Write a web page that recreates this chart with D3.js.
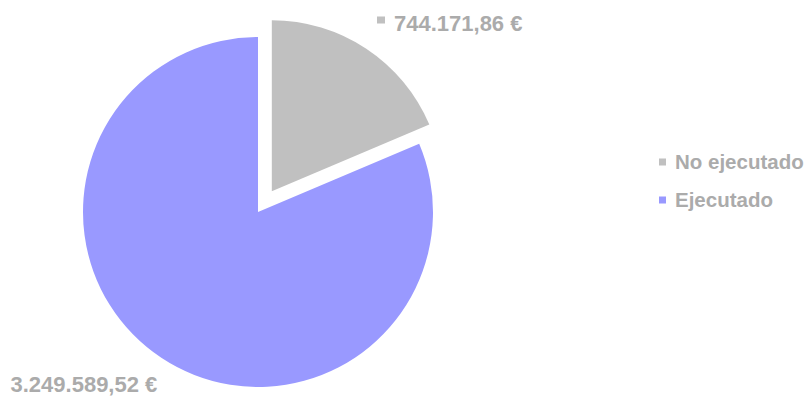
<!DOCTYPE html>
<html>
<head>
<meta charset="utf-8">
<script src="https://cdn.jsdelivr.net/npm/d3@7"></script>
<style>
  html, body { margin: 0; padding: 0; background: #ffffff; }
  svg { display: block; }
  text { font-family: "Liberation Sans", Arial, sans-serif; font-weight: bold; }
</style>
</head>
<body>
<svg id="chart" width="811" height="398"></svg>
<script>
// Budget execution split
const categories = ["No ejecutado", "Ejecutado"];
const values = [744171.86, 3249589.52];
const valueLabels = ["744.171,86 €", "3.249.589,52 €"];
const colors = ["#c0c0c0", "#9999ff"];
const explode = [25, 0];

const svg = d3.select("#chart");
const cx = 258, cy = 212;
const radii = [171, 175];
const textColor = "#ababab";

const pie = d3.pie().sort(null).value(d => d.value);
const arcs = pie(categories.map((c, i) => ({ name: c, value: values[i], i })));
const arc = d3.arc().innerRadius(0).outerRadius(d => radii[d.data.i]);

const g = svg.append("g").attr("transform", `translate(${cx},${cy})`);

g.selectAll("path")
  .data(arcs)
  .join("path")
  .attr("d", arc)
  .attr("fill", d => colors[d.data.i])
  .attr("transform", d => {
    const mid = (d.startAngle + d.endAngle) / 2;
    const off = explode[d.data.i];
    return `translate(${Math.sin(mid) * off},${-Math.cos(mid) * off})`;
  });

// Data labels
const lbl = svg.append("g");
// "No ejecutado" value label with its key square
lbl.append("rect").attr("x", 377).attr("y", 16.5).attr("width", 8).attr("height", 7).attr("fill", colors[0]);
lbl.append("text").attr("x", 394).attr("y", 31)
  .attr("font-size", 22).attr("fill", textColor).text(valueLabels[0]);
// "Ejecutado" value label
lbl.append("text").attr("x", 10.5).attr("y", 392)
  .attr("font-size", 22).attr("fill", textColor).text(valueLabels[1]);

// Legend
const legend = svg.append("g");
const ly = d3.scalePoint().domain(categories).range([162, 200]);
categories.forEach((c, i) => {
  legend.append("rect").attr("x", 659).attr("y", ly(c) - 3.5).attr("width", 7).attr("height", 7).attr("fill", colors[i]);
  legend.append("text").attr("x", 675).attr("y", ly(c) + 7)
    .attr("font-size", 20.5).attr("fill", textColor).text(c);
});
</script>
</body>
</html>
